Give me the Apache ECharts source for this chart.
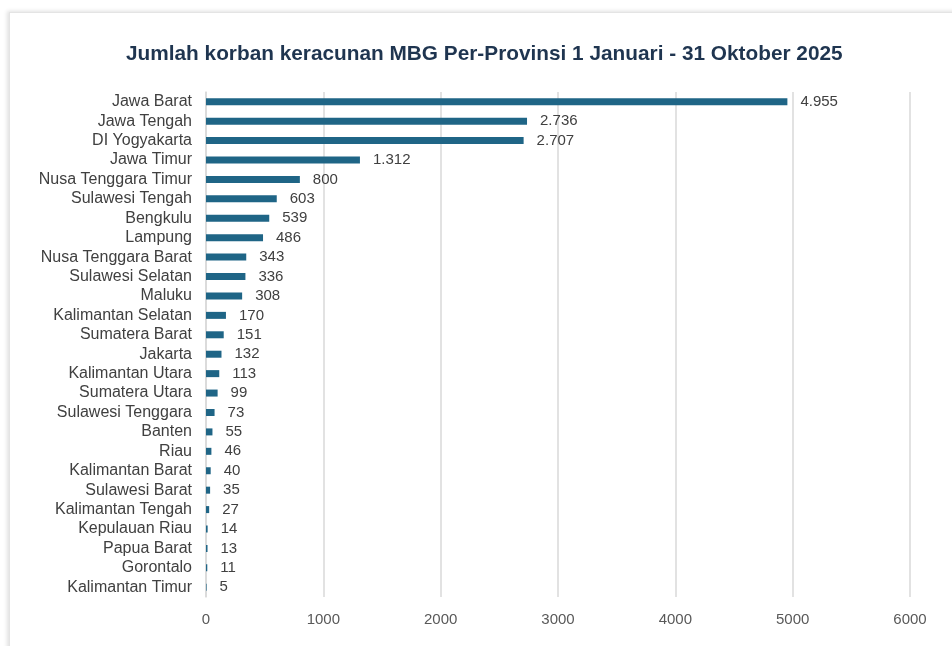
<!DOCTYPE html>
<html>
<head>
<meta charset="utf-8">
<title>Jumlah korban keracunan MBG</title>
<script src="https://cdn.jsdelivr.net/npm/echarts@6/dist/echarts.min.js"></script>
<style>
	html, body { margin: 0; padding: 0; background: #ffffff; }
	.card {
		position: absolute;
		left: 9px; top: 12px;
		width: 960px; height: 660px;
		background: #ffffff;
		border: 1px solid #e4e4e4;
		box-shadow: -2px -1px 4px rgba(0,0,0,0.12);
	}
	#main { position: absolute; left: 0; top: 0; width: 952px; height: 646px; }
</style>
</head>
<body>
<div class="card"></div>
<div id="main"></div>
<script>
	// provinsi (urut dari atas)
	var provinces = ['Jawa Barat', 'Jawa Tengah', 'DI Yogyakarta', 'Jawa Timur', 'Nusa Tenggara Timur',
		'Sulawesi Tengah', 'Bengkulu', 'Lampung', 'Nusa Tenggara Barat', 'Sulawesi Selatan', 'Maluku',
		'Kalimantan Selatan', 'Sumatera Barat', 'Jakarta', 'Kalimantan Utara', 'Sumatera Utara',
		'Sulawesi Tenggara', 'Banten', 'Riau', 'Kalimantan Barat', 'Sulawesi Barat', 'Kalimantan Tengah',
		'Kepulauan Riau', 'Papua Barat', 'Gorontalo', 'Kalimantan Timur'];
	// jumlah korban
	var victims = [4955, 2736, 2707, 1312, 800, 603, 539, 486, 343, 336, 308, 170, 151, 132, 113, 99,
		73, 55, 46, 40, 35, 27, 14, 13, 11, 5];
	var axisMin = 0, axisMax = 6000, axisStep = 1000;

	function formatDot(v) {
		return String(v).replace(/\B(?=(\d{3})+(?!\d))/g, '.');
	}

	var myChart = echarts.init(document.getElementById('main'));
	var option = {
		backgroundColor: 'transparent',
		animation: false,
		title: {
			text: 'Jumlah korban keracunan MBG Per-Provinsi 1 Januari - 31 Oktober 2025',
			left: 121,
			top: 39,
			textStyle: {
				fontFamily: 'Liberation Sans, Arial, sans-serif',
				fontSize: 20.8,
				fontWeight: 'bold',
				color: '#1f3550'
			}
		},
		grid: {
			left: 206,
			right: 42,
			top: 92,
			bottom: 49,
			containLabel: false
		},
		xAxis: {
			type: 'value',
			min: axisMin,
			max: axisMax,
			interval: axisStep,
			axisLine: { show: false },
			axisTick: { show: false },
			splitLine: { lineStyle: { color: '#d9d9d9', width: 1.5 } },
			axisLabel: {
				margin: 15,
				fontFamily: 'Liberation Sans, Arial, sans-serif',
				fontSize: 15,
				color: '#595959',
				formatter: function (v) { return String(v); }
			}
		},
		yAxis: {
			type: 'category',
			inverse: true,
			data: provinces,
			axisLine: { show: true, lineStyle: { color: '#d9d9d9', width: 1.5 } },
			axisTick: { show: false },
			axisLabel: {
				interval: 0,
				margin: 14,
				fontFamily: 'Liberation Sans, Arial, sans-serif',
				fontSize: 16,
				color: '#404040'
			}
		},
		series: [{
			type: 'bar',
			data: victims,
			barWidth: 7,
			itemStyle: { color: '#1f6586' },
			label: {
				show: true,
				position: 'right',
				distance: 13,
				fontFamily: 'Liberation Sans, Arial, sans-serif',
				fontSize: 15,
				color: '#404040',
				formatter: function (p) { return formatDot(p.value); }
			}
		}]
	};
	myChart.setOption(option);
</script>
</body>
</html>
